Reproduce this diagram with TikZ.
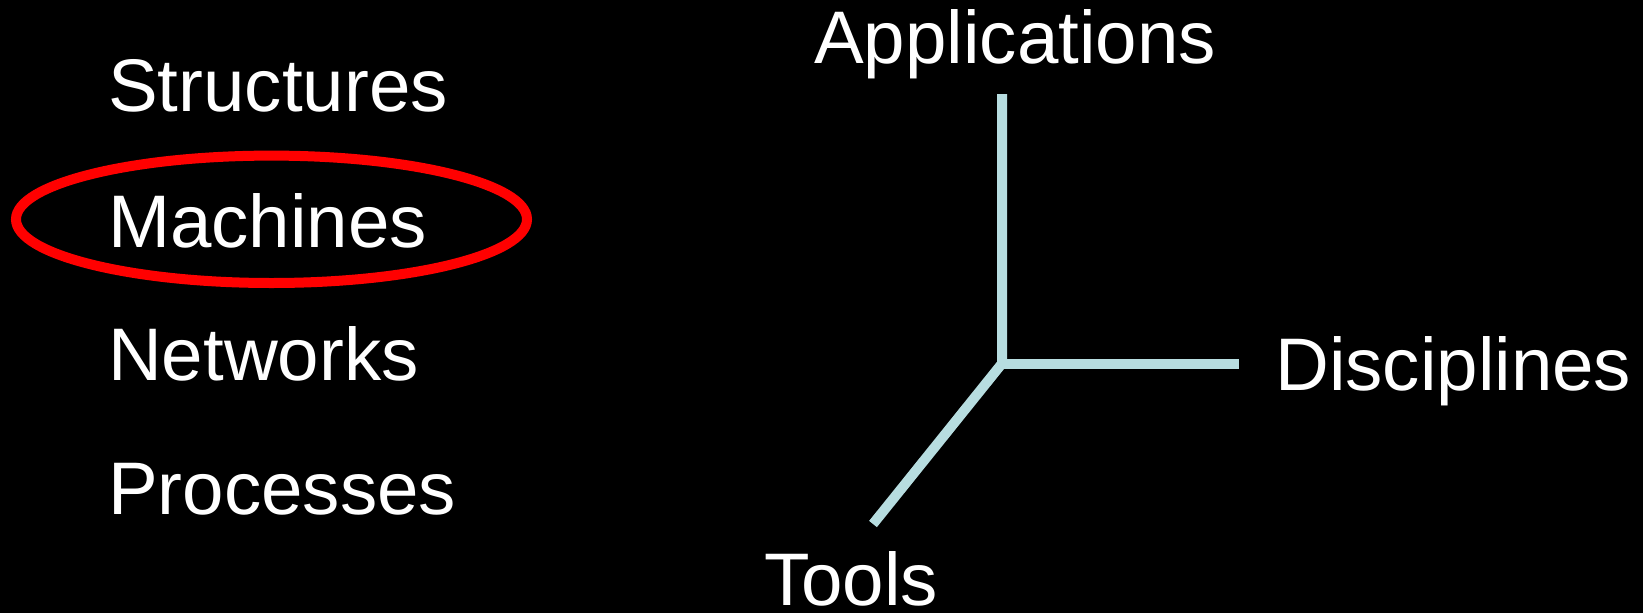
\documentclass[tikz,border=0pt]{standalone}
\usepackage{fontspec}
\setmainfont{Liberation Sans}
\usepackage{xcolor}
\definecolor{axisblue}{RGB}{183,221,224}

\begin{document}
\begin{tikzpicture}[x=1pt,y=1pt]
\tikzstyle{every node}+=[inner sep=0pt, text=white, anchor=base west, font=\fontsize{74.5}{90}\selectfont]
\tikzstyle{axis}=[draw=axisblue, line width=10]
\fill [black] (0,0) rectangle (1643,-613);
\useasboundingbox (0,0) rectangle (1643,-613);
\node (structures) at (108,-111.4) {Structures};
\node (machines) at (108,-247) {Machines};
\node (networks) at (108,-380) {Networks};
\node (processes) at (108,-514) {Processes};
\draw [red, line width=10] (271.5,-219.3) ellipse (255.5 and 63.7);
\node (applications) at (814,-63.7) {Applications};
\node (disciplines) at (1275,-390) {Disciplines};
\node [text depth=0pt] (tools) at (764,-605.5) {Tools};
\coordinate (o) at (1002,-363.5);
\coordinate (apptip) at (1002,-94);
\coordinate (disctip) at (1239,-363.5);
\coordinate (tooltip) at (873,-524);
\draw [axis] (apptip) -- (o) -- (tooltip);
\draw [axis] (o) -- (disctip);
\end{tikzpicture}
\end{document}
